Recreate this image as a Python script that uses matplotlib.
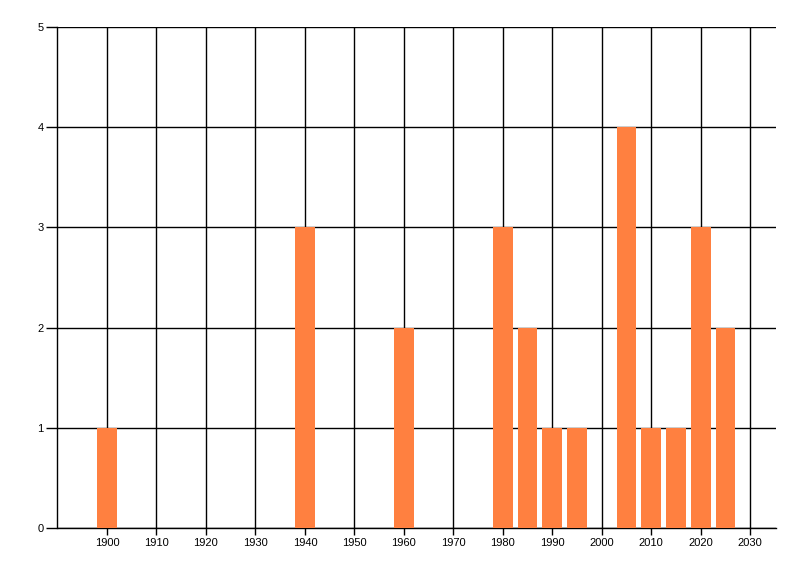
import matplotlib
matplotlib.use("Agg")
import matplotlib.pyplot as plt

years = [1900, 1940, 1960, 1980, 1985, 1990, 1995, 2005, 2010, 2015, 2020, 2025]
counts = [1, 3, 2, 3, 2, 1, 1, 4, 1, 1, 3, 2]
x_ticks = list(range(1900, 2031, 10))
y_ticks = [0, 1, 2, 3, 4, 5]

plt.rcParams['font.family'] = ['Liberation Sans', 'DejaVu Sans']
fig = plt.figure(figsize=(8, 5.76), dpi=100)
ax = fig.add_axes([57.5/800, 1-528/576, (776-57.5)/800, (528-27)/576])

ax.bar(years, counts, width=4, color='#FF8040', zorder=3)
ax.set_xlim(1890, 2035.2)
ax.set_ylim(0, 5)
ax.set_xticks(x_ticks)
ax.set_xticklabels([str(t) for t in x_ticks], fontsize=8)
ax.set_yticks(y_ticks)
ax.set_yticklabels([str(t) for t in y_ticks], fontsize=8)
ax.grid(True, color='black', linewidth=1, zorder=1)
ax.set_axisbelow(True)
for s in ['top', 'right']:
    ax.spines[s].set_visible(False)
for s in ['left', 'bottom']:
    ax.spines[s].set_color('black')
    ax.spines[s].set_linewidth(1)
ax.tick_params(axis='y', length=8, width=1, pad=2, colors='black')
ax.tick_params(axis='x', length=5, width=1, pad=2, colors='black')

fig.savefig('out.png', dpi=100)
